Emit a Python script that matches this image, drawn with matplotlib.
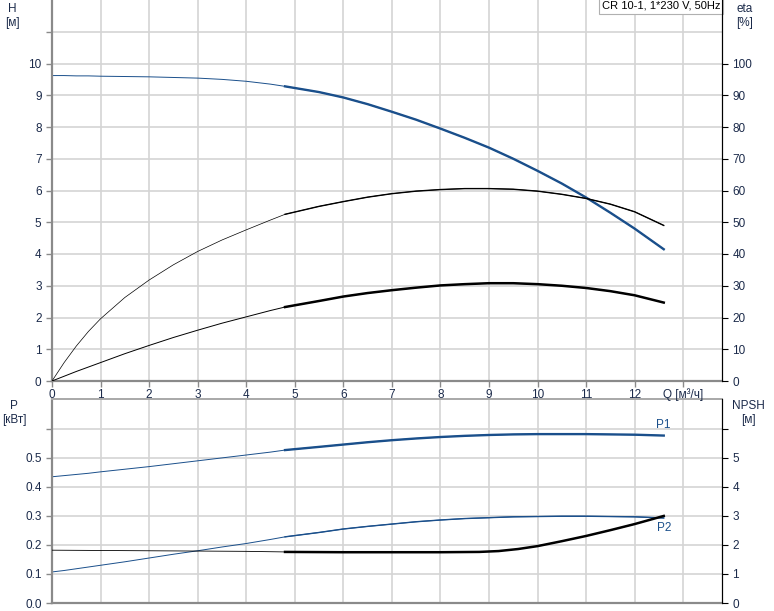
import numpy as np
import matplotlib
matplotlib.use("Agg")
import matplotlib.pyplot as plt

plt.rcParams['font.family'] = ['Liberation Sans', 'DejaVu Sans']
plt.rcParams['font.size'] = 8.5

# --- data ---
q = [0, 0.25, 0.5, 0.75, 1, 1.5, 2, 2.5, 3, 3.5, 4, 4.5, 4.8, 5.5, 6, 6.5,
     7, 7.5, 8, 8.5, 9, 9.5, 10, 10.5, 11, 11.5, 12, 12.6]
head = [9.62, 9.62, 9.61, 9.61, 9.60, 9.59, 9.58, 9.56, 9.54, 9.50, 9.44, 9.35, 9.28, 9.10,
        8.93, 8.72, 8.48, 8.23, 7.95, 7.66, 7.35, 7.00, 6.62, 6.22, 5.78, 5.30, 4.80, 4.15]
eta_pump = [0, 5.8, 11.0, 15.6, 19.6, 26.3, 31.8, 36.6, 40.8, 44.4, 47.6, 50.7, 52.5, 55.0,
            56.5, 57.9, 59.0, 59.8, 60.3, 60.6, 60.6, 60.4, 59.8, 58.8, 57.5, 55.7, 53.3, 49.0]
eta_total = [0, 1.5, 3.0, 4.4, 5.8, 8.6, 11.2, 13.7, 16.0, 18.2, 20.2, 22.2, 23.3, 25.2,
             26.6, 27.7, 28.6, 29.4, 30.1, 30.5, 30.8, 30.8, 30.5, 30.0, 29.3, 28.3, 27.0, 24.7]
p1 = [0.435, 0.439, 0.443, 0.447, 0.452, 0.461, 0.470, 0.480, 0.490, 0.500, 0.510, 0.520, 0.527,
      0.538, 0.546, 0.554, 0.561, 0.567, 0.572, 0.576, 0.579, 0.581, 0.582, 0.582, 0.582, 0.581,
      0.580, 0.577]
p2 = [0.107, 0.112, 0.118, 0.124, 0.130, 0.142, 0.155, 0.168, 0.180, 0.193, 0.205, 0.219, 0.228,
      0.243, 0.255, 0.264, 0.272, 0.280, 0.286, 0.291, 0.294, 0.297, 0.298, 0.299, 0.299, 0.298,
      0.297, 0.293]
q_npsh = [0, 1, 2, 3, 4, 4.8, 6, 7, 8, 8.8, 9.2, 9.6, 10, 10.5, 11, 11.5, 12, 12.6]
npsh = [1.82, 1.81, 1.80, 1.79, 1.78, 1.76, 1.75, 1.75, 1.75, 1.76, 1.79, 1.86, 1.96, 2.13,
        2.31, 2.51, 2.72, 3.0]

q_ticks = list(range(0, 13))
title = "CR 10-1, 1*230 V, 50Hz"

blue = "#1a4f8b"
grid_c = "#d4d4d4"
spine_c = "#8a8a8a"
txt_c = "#1b2a4a"
k = 12  # index where the operating range (thick line) starts


def style(ax, right):
    ax.set_facecolor("white")
    ax.spines['left'].set_color(spine_c)
    ax.spines['left'].set_linewidth(1.6)
    ax.spines['bottom'].set_color(spine_c)
    ax.spines['bottom'].set_linewidth(1.6)
    ax.spines['right'].set_color("black")
    ax.spines['right'].set_linewidth(0.8)
    ax.tick_params(axis='both', colors=spine_c, labelcolor=txt_c, length=4, width=1)
    right.tick_params(axis='y', colors="black", labelcolor=txt_c, length=4, width=0.8)
    for s in ['left', 'bottom', 'top']:
        right.spines[s].set_visible(False)
    right.spines['right'].set_color("black")
    right.spines['right'].set_linewidth(0.8)
    ax.set_xlim(0, 13.8)
    ax.set_xticks(range(0, 14))
    ax.grid(True, color=grid_c, linewidth=1.2)
    ax.set_axisbelow(True)


fig = plt.figure(figsize=(7.74, 6.11), dpi=100)

# ---- bottom: power and NPSH (made first so the top axes' labels sit above it) ----
bx = fig.add_axes([52 / 774, 1 - 603 / 611, 670 / 774, 204 / 611])
bx2 = bx.twinx()
style(bx, bx2)
bx.spines['top'].set_color("#a8a8a8")
bx.spines['top'].set_linewidth(1.4)
bx.set_ylim(0, 0.703)
bx.set_yticks([0, 0.1, 0.2, 0.3, 0.4, 0.5, 0.6])
bx.set_yticklabels(["0.0", "0.1", "0.2", "0.3", "0.4", "0.5", ""])
bx.tick_params(axis='x', length=0, labelbottom=False)
bx2.set_ylim(0, 7.03)
bx2.set_yticks(range(0, 7))
bx2.set_yticklabels([str(i) for i in range(0, 6)] + [""])

bx.plot(q, p1, color=blue, lw=0.7)
bx.plot(q[k:], p1[k:], color=blue, lw=1.7)
bx.plot(q, p2, color=blue, lw=0.7)
bx.plot(q[k:], p2[k:], color=blue, lw=1.0)
bx2.plot(q_npsh, npsh, color="black", lw=0.6)
bx2.plot(q_npsh[5:], npsh[5:], color="black", lw=1.8)

bx.annotate("P1", (q[-1], p1[-1]), xytext=(0, 3), textcoords='offset points',
            ha='center', va='bottom', color=blue)
bx.annotate("P2", (q[-1], p2[-1]), xytext=(0, -3), textcoords='offset points',
            ha='center', va='top', color=blue)

fig.text(14 / 774, 1 - 400 / 611, "P\n[кВт]", ha='center', va='top', color=txt_c, linespacing=1.2)
fig.text(748 / 774, 1 - 400 / 611, "NPSH\n[м]", ha='center', va='top', color=txt_c, linespacing=1.2)

# ---- top: head and efficiency ----
ax = fig.add_axes([52 / 774, 1 - 381 / 611, 670 / 774, 381 / 611])
ax2 = ax.twinx()
style(ax, ax2)
ax.spines['top'].set_visible(False)
ax.set_ylim(0, 12)
ax.set_yticks(range(0, 12))
ax.set_yticklabels([str(i) for i in range(0, 11)] + [""])
ax.set_xticklabels([str(i) for i in q_ticks] + ["Q [м³/ч]"])
ax.tick_params(axis='x', pad=1.5)
ax2.set_ylim(0, 120)
ax2.set_yticks(range(0, 110, 10))

ax.plot(q, head, color=blue, lw=0.7)
ax.plot(q[k:], head[k:], color=blue, lw=1.7)
ax2.plot(q, eta_pump, color="black", lw=0.5)
ax2.plot(q[k:], eta_pump[k:], color="black", lw=1.0)
ax2.plot(q, eta_total, color="black", lw=0.7)
ax2.plot(q[k:], eta_total[k:], color="black", lw=1.8)

ax.text(0.998, 0.998, title, transform=ax.transAxes, ha='right', va='top', fontsize=8,
        color="black", bbox=dict(boxstyle='square,pad=0.25', fc='white', ec='#b0b0b0', lw=0.8))

fig.text(12 / 774, 1 - 3 / 611, "H\n[м]", ha='center', va='top', color=txt_c, linespacing=1.2)
fig.text(745 / 774, 1 - 3 / 611, "eta\n[%]", ha='center', va='top', color=txt_c, linespacing=1.2)

fig.savefig("out.png", dpi=100)
